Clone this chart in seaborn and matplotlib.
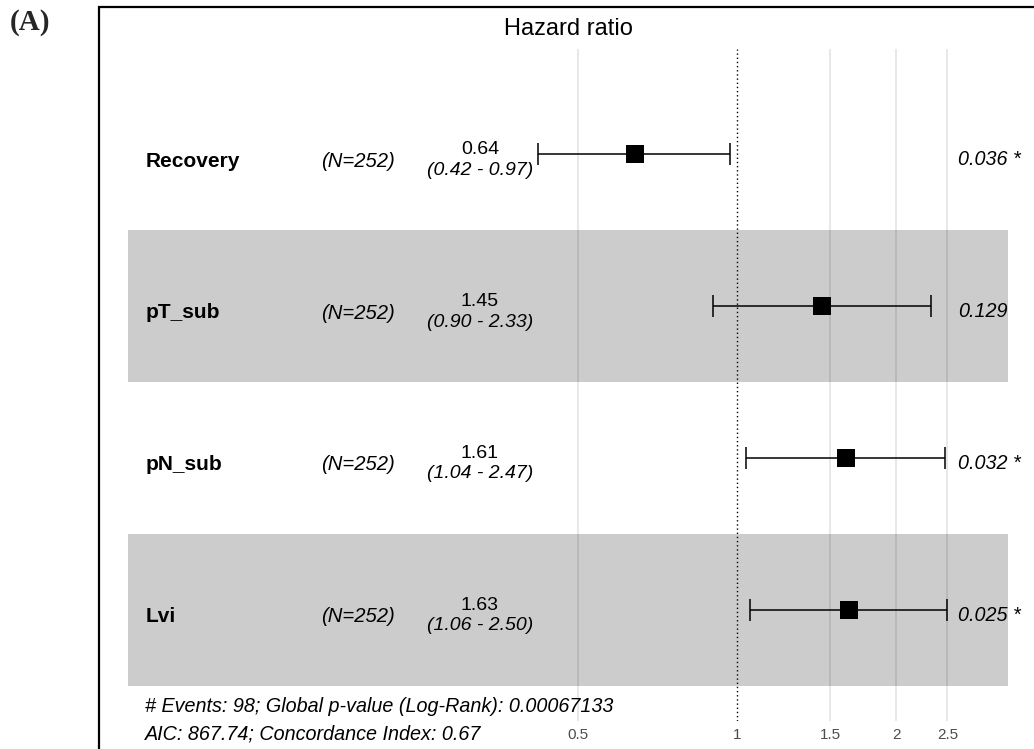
import matplotlib
matplotlib.use("Agg")
import matplotlib.pyplot as plt
from matplotlib.patches import Rectangle
import numpy as np
import pandas as pd
import seaborn as sns

# Cox model results
variables = ["Recovery", "pT_sub", "pN_sub", "Lvi"]
n_obs = [252, 252, 252, 252]
hazard_ratio = [0.64, 1.45, 1.61, 1.63]
ci_low = [0.42, 0.90, 1.04, 1.06]
ci_high = [0.97, 2.33, 2.47, 2.50]
p_values = ["0.036", "0.129", "0.032", "0.025"]
p_stars = [" *", "", " *", " *"]
x_ticks = [0.5, 1, 1.5, 2, 2.5]
footer_lines = [
    "# Events: 98; Global p-value (Log-Rank): 0.00067133",
    "AIC: 867.74; Concordance Index: 0.67",
]

df = pd.DataFrame({
    "variable": variables,
    "row": np.arange(1, len(variables) + 1),
    "hr": hazard_ratio,
    "lo": ci_low,
    "hi": ci_high,
})

sns.set_theme(style="white")
plt.rcParams["font.family"] = ["Liberation Sans", "DejaVu Sans"]

W, H = 1034, 749
fig = plt.figure(figsize=(W / 100, H / 100), dpi=100)

# panel from px 128..1008 horizontally, 49..721 vertically
L, R, T, B = 128, 1008, 49, 721
ax = fig.add_axes([L / W, 1 - B / H, (R - L) / W, (B - T) / H])
ax.set_xscale("log")
ax.set_xlim(0.0703, 3.257)
ax.set_ylim(4.732, 0.305)

# shaded alternate rows
for r in df["row"]:
    if r % 2 == 0:
        ax.axhspan(r - 0.5, r + 0.5, color="#CCCCCC", lw=0, zorder=0)

# vertical guide lines
for t in x_ticks:
    if t == 1:
        ax.axvline(t, color="black", lw=1.0, ls=(0, (1, 2)), zorder=2)
    else:
        ax.axvline(t, color="black", alpha=0.11, lw=1.2, zorder=1)

# confidence intervals
ax.errorbar(df["hr"], df["row"],
            xerr=[df["hr"] - df["lo"], df["hi"] - df["hr"]],
            fmt="none", ecolor="black", elinewidth=1.1, capsize=7.9,
            capthick=1.1, zorder=3)
sns.scatterplot(data=df, x="hr", y="row", marker="s", s=150, color="black",
                edgecolor="black", linewidth=0, ax=ax, zorder=4, legend=False)

# text columns
tr = ax.get_yaxis_transform()
def fx(px):
    return (px - L) / (R - L)

for i, row in df.iterrows():
    y = row["row"]
    ax.text(fx(146), y + 0.043, row["variable"], transform=tr, ha="left",
            va="center", fontsize=15, fontweight="bold", color="black")
    ax.text(fx(358), y + 0.045, f"(N={n_obs[i]})", transform=tr, ha="center",
            va="center", fontsize=14.6, style="italic", color="black")
    ax.text(fx(480), y - 0.032, f"{hazard_ratio[i]:.2f}", transform=tr,
            ha="center", va="center", fontsize=14, color="black")
    ax.text(fx(480), y + 0.104, f"({ci_low[i]:.2f} - {ci_high[i]:.2f})",
            transform=tr, ha="center", va="center", fontsize=14,
            style="italic", color="black")
    ax.text(fx(958), y + 0.035, p_values[i] + p_stars[i], transform=tr,
            ha="left", va="center", fontsize=14.2, style="italic",
            color="black")

ax.set_xticks(x_ticks)
ax.set_xticklabels([f"{t:g}" for t in x_ticks])
ax.xaxis.set_minor_locator(matplotlib.ticker.NullLocator())
ax.tick_params(axis="x", length=0, pad=5, labelsize=11, labelcolor="#4D4D4D")
ax.set_yticks([])
ax.set_xlabel("")
ax.set_ylabel("")
for s in ax.spines.values():
    s.set_visible(False)

fig.text(568 / W, 1 - 29 / H, "Hazard ratio", ha="center", va="center",
         fontsize=17, color="black")

for k, line in enumerate(footer_lines):
    fig.text(145 / W, 1 - (707 + 27 * k) / H, line, ha="left", va="center",
             fontsize=14.2, style="italic", color="black")

fig.text(30 / W, 1 - 23 / H, "(A)", ha="center", va="center", fontsize=21,
         fontweight="bold", family="Liberation Serif")

# outer frame
fig.add_artist(Rectangle((99 / W, -0.1), 1.2, 1 - 7 / H + 0.1,
                         transform=fig.transFigure, fill=False,
                         edgecolor="black", lw=1.6))

fig.savefig("out.png", dpi=100)
